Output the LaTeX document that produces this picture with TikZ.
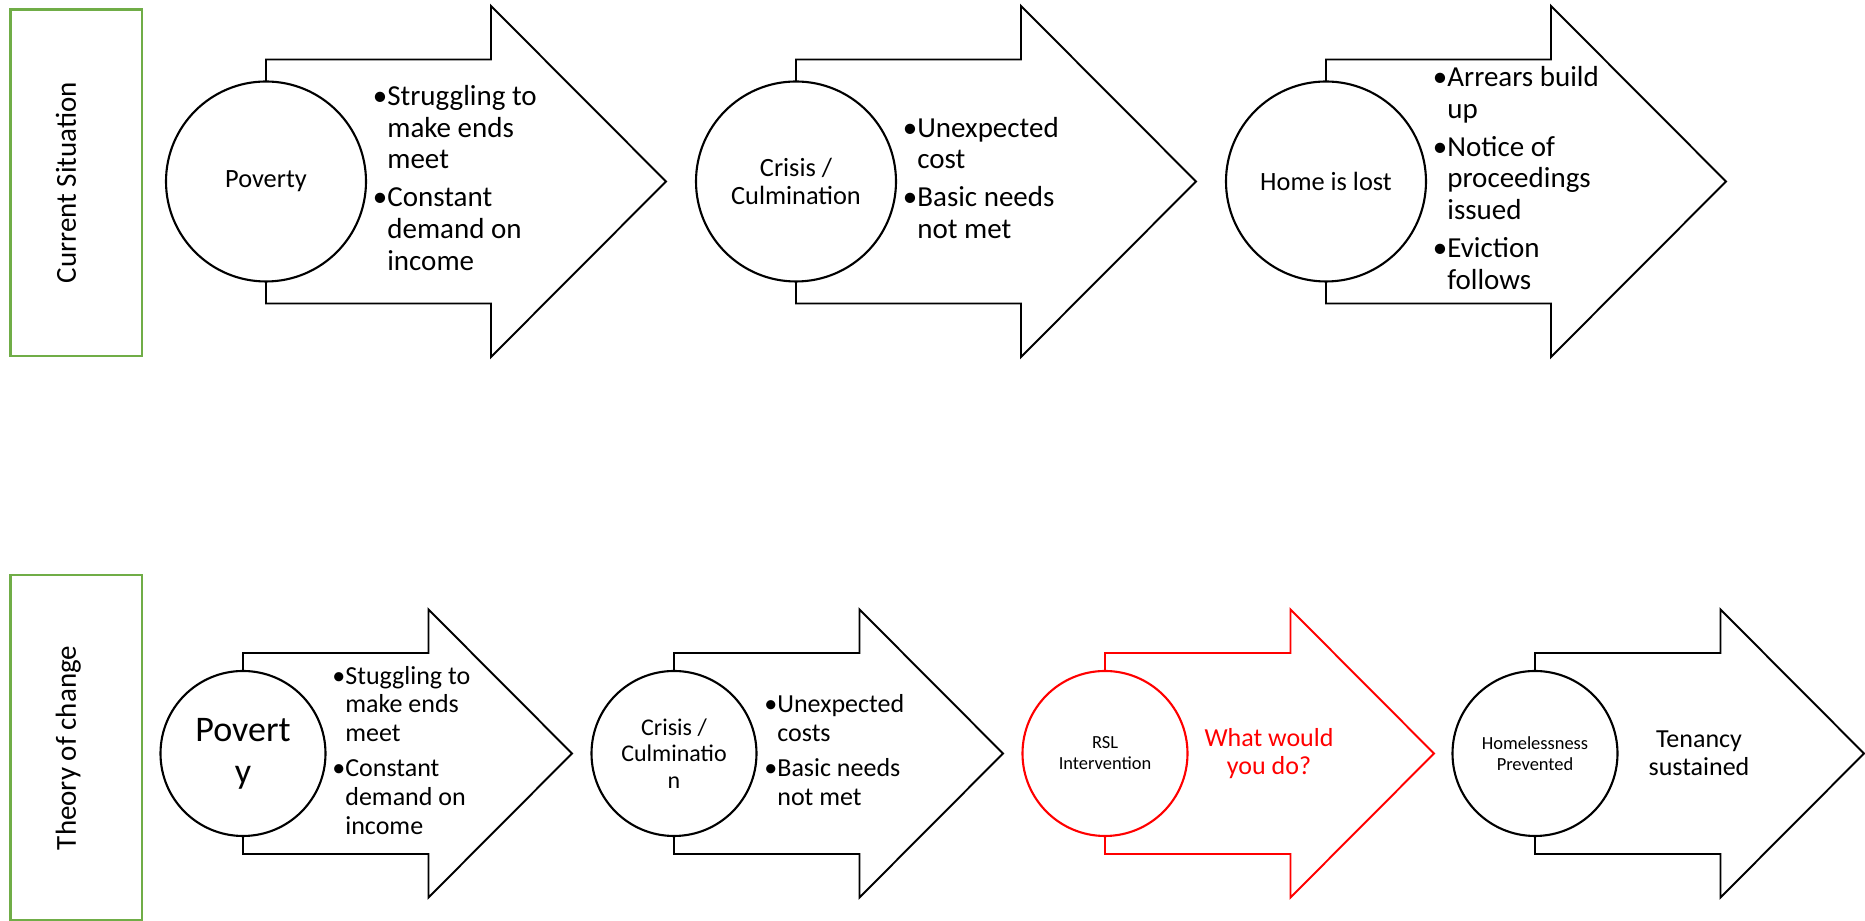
\documentclass[tikz,border=0pt]{standalone}
\usepackage{fontspec}
\setmainfont{Carlito}
\usetikzlibrary{positioning}

\definecolor{boxgreen}{RGB}{112,173,71}

\tikzset{
	flow/.style={draw=black, fill=white, line width=1.1pt},
	stage/.style={circle, draw=black, fill=white, line width=1.2pt, align=center, inner sep=0pt},
	bigstage/.style={stage, minimum size=40mm, font=\fontsize{15}{16.1}\selectfont},
	smallstage/.style={stage, minimum size=33mm},
	bullets/.style={inner sep=0pt, font=\fontsize{16.5}{18.1}\selectfont},
	smallbullets/.style={inner sep=0pt, font=\fontsize{14.8}{16.3}\selectfont},
	outcome/.style={inner sep=0pt, align=center, font=\fontsize{14.8}{16.1}\selectfont},
	sidebox/.style={draw=boxgreen, line width=1.5pt, minimum width=26.26mm},
	sidelabel/.style={rotate=90, anchor=base, inner sep=0pt, font=\fontsize{16.5}{18}\selectfont},
}

\begin{document}
\begin{tikzpicture}[x=0.2mm, y=0.2mm]
	\useasboundingbox (0,0) rectangle (1865,921);

	% current situation
	\node[sidebox, minimum height=69.3mm] (box1) at (76.35,738.25) {};
	\node[sidelabel] (lab1) at (76,738.25) {Current Situation};

	\coordinate (p1) at (266,739.5);
	\coordinate (p2) at (796,739.5);
	\coordinate (p3) at (1326,739.5);
	\draw[flow] (p1) ++(0,122) -| ++(225,53.5) -- ++(175,-175.5) -- ++(-175,-175.5) |- ++(-225,53.5) -- cycle;
	\draw[flow] (p2) ++(0,122) -| ++(225,53.5) -- ++(175,-175.5) -- ++(-175,-175.5) |- ++(-225,53.5) -- cycle;
	\draw[flow] (p3) ++(0,122) -| ++(225,53.5) -- ++(175,-175.5) -- ++(-175,-175.5) |- ++(-225,53.5) -- cycle;

	\node[bigstage] (c1) at (p1) {Poverty};
	\node[bigstage] (c2) at (p2) {Crisis /\\Culmination};
	\node[bigstage] (c3) at (p3) {Home is lost};

	\node[bullets, right=1.1mm of c1] (t1) {\begin{tabular}{@{}l@{}l@{}}
		\textbullet & Struggling to\\ & make ends\\ & meet\\[3.4pt]
		\textbullet & Constant\\ & demand on\\ & income
	\end{tabular}};
	\node[bullets, right=1.1mm of c2] (t2) {\begin{tabular}{@{}l@{}l@{}}
		\textbullet & Unexpected\\ & cost\\[3.4pt]
		\textbullet & Basic needs\\ & not met
	\end{tabular}};
	\node[bullets, right=1.1mm of c3] (t3) {\begin{tabular}{@{}l@{}l@{}}
		\textbullet & Arrears build\\ & up\\[3.4pt]
		\textbullet & Notice of\\ & proceedings\\ & issued\\[3.4pt]
		\textbullet & Eviction\\ & follows
	\end{tabular}};

	% theory of change
	\node[sidebox, minimum height=69mm] (box2) at (76.35,173.5) {};
	\node[sidelabel] (lab2) at (76,173) {Theory of change};

	\coordinate (q1) at (243,167.5);
	\coordinate (q2) at (674,167.5);
	\coordinate (q3) at (1105,167.5);
	\coordinate (q4) at (1535,167.5);
	\draw[flow] (q1) ++(0,100.5) -| ++(185.5,43.5) -- ++(143.5,-144) -- ++(-143.5,-144) |- ++(-185.5,43.5) -- cycle;
	\draw[flow] (q2) ++(0,100.5) -| ++(185.5,43.5) -- ++(143.5,-144) -- ++(-143.5,-144) |- ++(-185.5,43.5) -- cycle;
	\draw[flow, draw=red] (q3) ++(0,100.5) -| ++(185.5,43.5) -- ++(143.5,-144) -- ++(-143.5,-144) |- ++(-185.5,43.5) -- cycle;
	\draw[flow] (q4) ++(0,100.5) -| ++(185.5,43.5) -- ++(143.5,-144) -- ++(-143.5,-144) |- ++(-185.5,43.5) -- cycle;

	\node[smallstage, font=\fontsize{20.5}{24}\selectfont] (d1) at (q1) {Povert\\y};
	\node[smallstage, font=\fontsize{13.65}{15}\selectfont] (d2) at (q2) {Crisis /\\Culminatio\\n};
	\node[smallstage, draw=red, font=\fontsize{10.5}{12}\selectfont] (d3) at (q3) {RSL\\Intervention};
	\node[smallstage, font=\fontsize{10.5}{12}\selectfont] (d4) at (q4) {Homelessness\\Prevented};

	\node[smallbullets, right=1.1mm of d1] (u1) {\begin{tabular}{@{}l@{}l@{}}
		\textbullet & Stuggling to\\ & make ends\\ & meet\\[3.8pt]
		\textbullet & Constant\\ & demand on\\ & income
	\end{tabular}};
	\node[smallbullets, right=1.3mm of d2] (u2) {\begin{tabular}{@{}l@{}l@{}}
		\textbullet & Unexpected\\ & costs\\[3.8pt]
		\textbullet & Basic needs\\ & not met
	\end{tabular}};
	\node[outcome, text=red] (u3) at ([xshift=32.8mm]d3.center) {What would\\you do?};
	\node[outcome] (u4) at ([xshift=32.8mm]d4.center) {Tenancy\\sustained};
\end{tikzpicture}
\end{document}
